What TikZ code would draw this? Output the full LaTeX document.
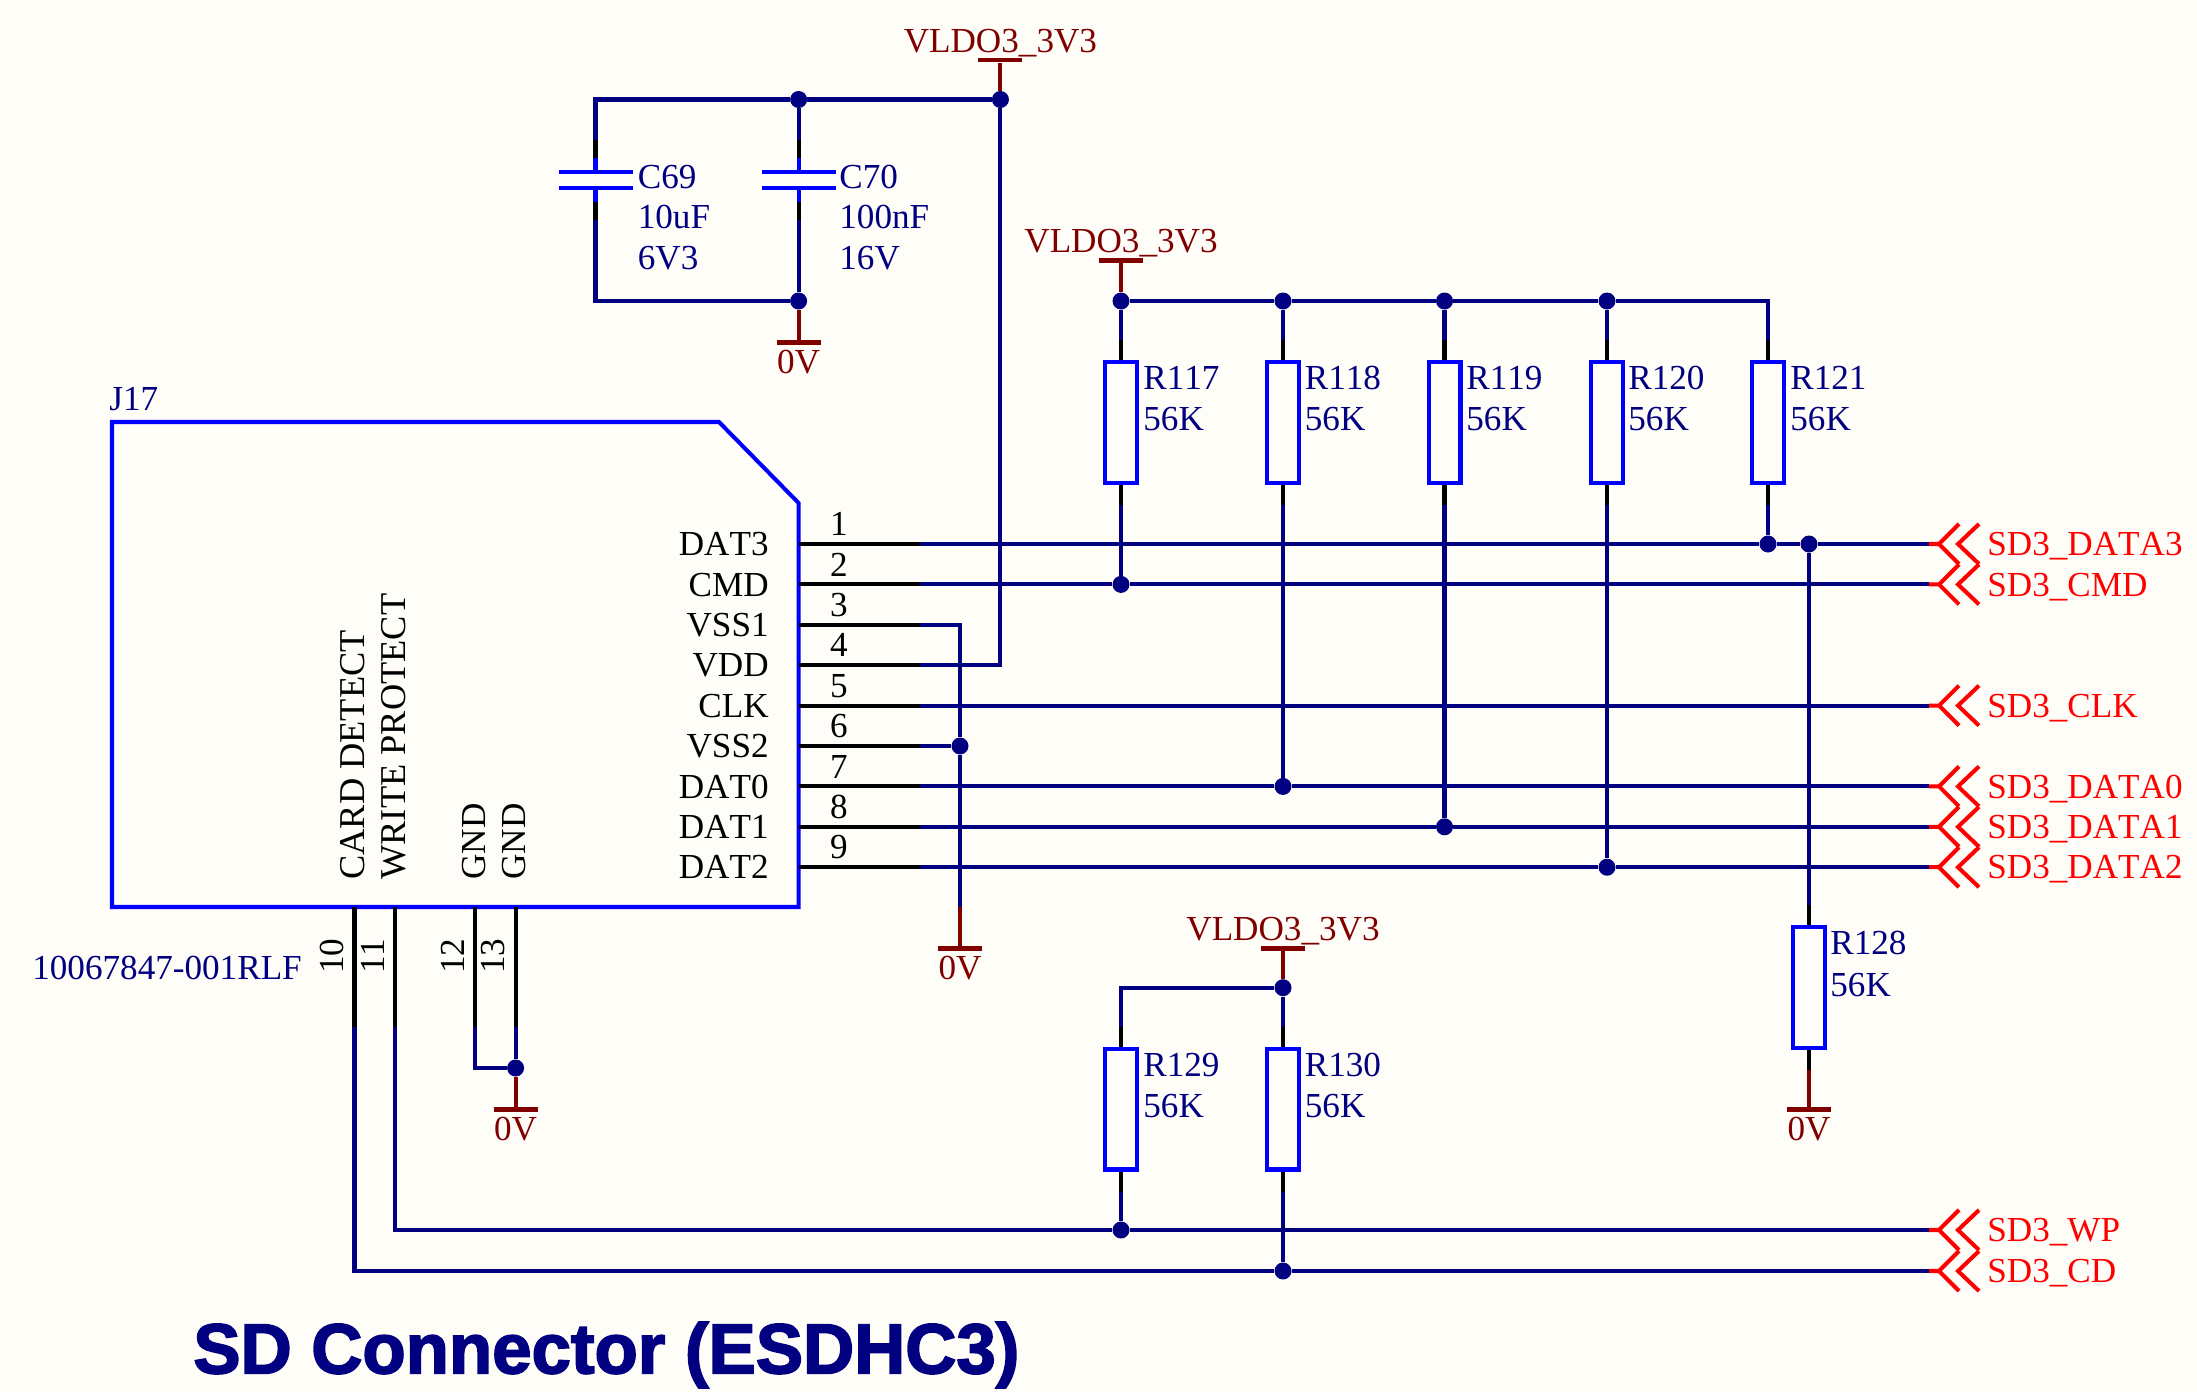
\documentclass[tikz,border=0pt]{standalone}
\usepackage{fontspec}
\setmainfont[Kerning=Off]{Liberation Serif}
\newfontfamily\titlefont[FakeBold=2.4]{Liberation Sans Bold}
\definecolor{paper}{RGB}{255,253,248}
\definecolor{netnavy}{RGB}{0,0,128}
\definecolor{partblue}{RGB}{0,0,255}
\definecolor{railred}{RGB}{128,0,0}
\tikzset{
    lbl/.style={inner sep=0, text height=13.2pt, text depth=0pt, font=\fontsize{20}{24}\selectfont},
    partlbl/.style={lbl, anchor=west, text=netnavy},
    pinname/.style={lbl, anchor=east, text=black},
    pinnum/.style={lbl, text=black},
    botname/.style={lbl, anchor=west, rotate=90, text=black},
    botlong/.style={botname, font=\fontsize{20.7}{24}\selectfont},
    railtxt/.style={lbl, text=railred},
    porttxt/.style={lbl, anchor=west, text=red},
    junct/.style={circle, fill=netnavy, inner sep=0, minimum size=.34cm},
    railbar/.style={rectangle, fill=railred, inner sep=0, minimum width=.88cm, minimum height=.09cm},
    plate/.style={rectangle, fill=partblue, inner sep=0, minimum width=1.48cm, minimum height=.08cm},
    res/.style={rectangle, draw=partblue, line width=2.3pt, inner sep=0, minimum width=.64cm, minimum height=2.42cm},
    wire/.style={netnavy, line width=2.3pt},
    stub/.style={black, line width=2.3pt},
    partline/.style={partblue, line width=2.3pt},
    railline/.style={railred, line width=2.3pt},
    chevrons/.pic={
        \draw[red, line width=2.3pt] (0,0) -- (10,0) (30,-20) -- (10,0) -- (30,20);
        \draw[red, line width=2.3pt] (50,-20) -- (29,0) -- (50,20);
    }
}
\begin{document}
\begin{tikzpicture}[x=.02cm, y=-.02cm]
    \fill[paper] (0,0) rectangle (2197,1393);
    \useasboundingbox (0,0) rectangle (2197,1393);
    % connector body
    \draw[partline] (112,422) -- (719,422) -- (798.6,503) -- (798.6,907) -- (112,907) -- cycle;
    \node[partlbl] (J17) at (109,399) {J17};
    \node[partlbl] (partno) at (32,968) {10067847-001RLF};

    \node[pinname] (DAT3) at (769,544) {DAT3};
    \node[pinname] (CMD) at (769,584.4) {CMD};
    \node[pinname] (VSS1) at (769,624.8) {VSS1};
    \node[pinname] (VDD) at (769,665.2) {VDD};
    \node[pinname] (CLK) at (769,705.6) {CLK};
    \node[pinname] (VSS2) at (769,746) {VSS2};
    \node[pinname] (DAT0) at (769,786.4) {DAT0};
    \node[pinname] (DAT1) at (769,826.8) {DAT1};
    \node[pinname] (DAT2) at (769,867.2) {DAT2};
    \node[pinnum] (n1) at (839,524) {1};
    \node[pinnum] (n2) at (839,564.4) {2};
    \node[pinnum] (n3) at (839,604.8) {3};
    \node[pinnum] (n4) at (839,645.2) {4};
    \node[pinnum] (n5) at (839,685.6) {5};
    \node[pinnum] (n6) at (839,726) {6};
    \node[pinnum] (n7) at (839,766.4) {7};
    \node[pinnum] (n8) at (839,806.8) {8};
    \node[pinnum] (n9) at (839,847.2) {9};
    \node[botlong] (cd) at (353,880) {CARD DETECT};
    \node[botlong] (wp) at (394,880) {WRITE PROTECT};
    \node[botname] (gndA) at (474,880) {GND};
    \node[botname] (gndB) at (514,880) {GND};
    \node[botname] (n10) at (332,974) {10};
    \node[botname] (n11) at (373,974) {11};
    \node[botname] (n12) at (453,974) {12};
    \node[botname] (n13) at (493,974) {13};

    % pin ends on the body and where the stubs stop
    \coordinate (p1) at (798.6,544);    \coordinate (q1) at (920,544);
    \coordinate (p2) at (798.6,584.4);  \coordinate (q2) at (920,584.4);
    \coordinate (p3) at (798.6,624.8);  \coordinate (q3) at (920,624.8);
    \coordinate (p4) at (798.6,665.2);  \coordinate (q4) at (920,665.2);
    \coordinate (p5) at (798.6,705.6);  \coordinate (q5) at (920,705.6);
    \coordinate (p6) at (798.6,746);    \coordinate (q6) at (920,746);
    \coordinate (p7) at (798.6,786.4);  \coordinate (q7) at (920,786.4);
    \coordinate (p8) at (798.6,826.8);  \coordinate (q8) at (920,826.8);
    \coordinate (p9) at (798.6,867.2);  \coordinate (q9) at (920,867.2);
    \coordinate (p10) at (354.5,907);   \coordinate (q10) at (354.5,1027);
    \coordinate (p11) at (395,907);     \coordinate (q11) at (395,1027);
    \coordinate (p12) at (475,907);     \coordinate (q12) at (475,1027);
    \coordinate (p13) at (515.6,907);   \coordinate (q13) at (515.6,1027);
    \draw[stub] (p1) -- (q1);
    \draw[stub] (p2) -- (q2);
    \draw[stub] (p3) -- (q3);
    \draw[stub] (p4) -- (q4);
    \draw[stub] (p5) -- (q5);
    \draw[stub] (p6) -- (q6);
    \draw[stub] (p7) -- (q7);
    \draw[stub] (p8) -- (q8);
    \draw[stub] (p9) -- (q9);
    \draw[stub] (p10) -- (q10);
    \draw[stub] (p11) -- (q11);
    \draw[stub] (p12) -- (q12);
    \draw[stub] (p13) -- (q13);

    % capacitors
    \node[plate] (C69a) at (595.5,172) {};
    \node[plate] (C69b) at (595.5,188) {};
    \node[plate] (C70a) at (798.6,172) {};
    \node[plate] (C70b) at (798.6,188) {};
    \node[partlbl] (C69) at (637.5,176.5) {C69};
    \node[partlbl] at (637.5,217) (C69v) {10uF};
    \node[partlbl] at (637.5,258) (C69r) {6V3};
    \node[partlbl] (C70) at (839,176.5) {C70};
    \node[partlbl] at (839,217) (C70v) {100nF};
    \node[partlbl] at (839,258) (C70r) {16V};
    \node[junct] (jCapTop) at (798.6,99.5) {};
    \node[junct] (jCapBot) at (798.6,301) {};
    \node[junct] (jVdd) at (1000.4,99.5) {};
    \draw[wire] (C69a) |- (jCapTop);
    \draw[wire] (C69b) |- (jCapBot);
    \draw[wire] (C70a) -- (jCapTop);
    \draw[wire] (C70b) -- (jCapBot);
    \draw[wire] (jCapTop) -- (jVdd);
    \draw[wire] (q4) -| (jVdd);
    \draw[partline] (C69a) -- ++(0,-14);
    \draw[stub] (C69a) ++(0,-14) -- ++(0,-18);
    \draw[partline] (C69b) -- ++(0,14);
    \draw[stub] (C69b) ++(0,14) -- ++(0,18);
    \draw[partline] (C70a) -- ++(0,-14);
    \draw[stub] (C70a) ++(0,-14) -- ++(0,-18);
    \draw[partline] (C70b) -- ++(0,14);
    \draw[stub] (C70b) ++(0,14) -- ++(0,18);

    % supply and ground symbols
    \node[railbar] (barA) at (1000.4,60) {};
    \node[railtxt] (vldoA) at (1000.4,40.6) {VLDO3\_3V3};
    \node[railbar] (barB) at (1121,260.6) {};
    \node[railtxt] (vldoB) at (1121,241) {VLDO3\_3V3};
    \node[railbar] (barC) at (1283,948.5) {};
    \node[railtxt] (vldoC) at (1283,929) {VLDO3\_3V3};
    \node[railbar] (gndCap) at (798.6,342.5) {};
    \node[railtxt] (zeroCap) at (798.6,362) {0V};
    \node[railbar] (gndVss) at (960,948.5) {};
    \node[railtxt] (zeroVss) at (960,968) {0V};
    \node[railbar] (gndShell) at (515.6,1109.6) {};
    \node[railtxt] (zeroShell) at (515.6,1129) {0V};
    \node[railbar] (gndPull) at (1809,1109.6) {};
    \node[railtxt] (zeroPull) at (1809,1129) {0V};

    % pull-ups
    \node[res] (R117) at (1121,422.5) {};
    \node[res] (R118) at (1283,422.5) {};
    \node[res] (R119) at (1444.5,422.5) {};
    \node[res] (R120) at (1607,422.5) {};
    \node[res] (R121) at (1768,422.5) {};
    \node[res] (R128) at (1809,987.7) {};
    \node[res] (R129) at (1121,1109) {};
    \node[res] (R130) at (1283,1109) {};
    \node[partlbl] (R117n) at (1143,378) {R117};
    \node[partlbl] (R117v) at (1143,419) {56K};
    \node[partlbl] (R118n) at (1304.5,378) {R118};
    \node[partlbl] (R118v) at (1304.5,419) {56K};
    \node[partlbl] (R119n) at (1466,378) {R119};
    \node[partlbl] (R119v) at (1466,419) {56K};
    \node[partlbl] (R120n) at (1628,378) {R120};
    \node[partlbl] (R120v) at (1628,419) {56K};
    \node[partlbl] (R121n) at (1790,378) {R121};
    \node[partlbl] (R121v) at (1790,419) {56K};
    \node[partlbl] (R128n) at (1830,943) {R128};
    \node[partlbl] (R128v) at (1830,985) {56K};
    \node[partlbl] (R129n) at (1143,1065) {R129};
    \node[partlbl] (R129v) at (1143,1106) {56K};
    \node[partlbl] (R130n) at (1304.5,1065) {R130};
    \node[partlbl] (R130v) at (1304.5,1106) {56K};

    \node[junct] (jRailB) at (1121,301) {};
    \node[junct] (jB2) at (1283,301) {};
    \node[junct] (jB3) at (1444.5,301) {};
    \node[junct] (jB4) at (1607,301) {};
    \node[junct] (jRailC) at (1283,987.7) {};
    \node[junct] (jCmd) at (1121,584.4) {};
    \node[junct] (jDat0) at (1283,786.4) {};
    \node[junct] (jDat1) at (1444.5,826.8) {};
    \node[junct] (jDat2) at (1607,867.2) {};
    \node[junct] (jDat3) at (1768,544) {};
    \node[junct] (jDat3b) at (1809,544) {};
    \node[junct] (jVss) at (960,746) {};
    \node[junct] (jShell) at (515.6,1068) {};
    \node[junct] (jWp) at (1121,1230) {};
    \node[junct] (jCd) at (1283,1271) {};

    % net ends at the ports
    \coordinate (e1) at (1929,544);
    \coordinate (e2) at (1929,584.4);
    \coordinate (e5) at (1929,705.6);
    \coordinate (e7) at (1929,786.4);
    \coordinate (e8) at (1929,826.8);
    \coordinate (e9) at (1929,867.2);
    \coordinate (eWp) at (1929,1230);
    \coordinate (eCd) at (1929,1271);
    \coordinate (vssDrop) at (960,907);
    \pic at (e1) {chevrons};
    \pic at (e2) {chevrons};
    \pic at (e5) {chevrons};
    \pic at (e7) {chevrons};
    \pic at (e8) {chevrons};
    \pic at (e9) {chevrons};
    \pic at (eWp) {chevrons};
    \pic at (eCd) {chevrons};
    \node[porttxt] (data3) at (1987,544) {SD3\_DATA3};
    \node[porttxt] (cmd) at (1987,584.4) {SD3\_CMD};
    \node[porttxt] (clk) at (1987,705.6) {SD3\_CLK};
    \node[porttxt] (data0) at (1987,786.4) {SD3\_DATA0};
    \node[porttxt] (data1) at (1987,826.8) {SD3\_DATA1};
    \node[porttxt] (data2) at (1987,867.2) {SD3\_DATA2};
    \node[porttxt] (wpn) at (1987,1230) {SD3\_WP};
    \node[porttxt] (cdn) at (1987,1271) {SD3\_CD};

    % nets
    \draw[wire] (q1) -- (jDat3) -- (jDat3b) -- (e1);
    \draw[wire] (q2) -- (jCmd) -- (e2);
    \draw[wire] (q3) -| (jVss);
    \draw[wire] (q5) -- (e5);
    \draw[wire] (q6) -- (jVss);
    \draw[wire] (q7) -- (jDat0) -- (e7);
    \draw[wire] (q8) -- (jDat1) -- (e8);
    \draw[wire] (q9) -- (jDat2) -- (e9);
    \draw[wire] (jVss) -- (vssDrop);
    \draw[railline] (vssDrop) -- (gndVss);
    \draw[wire] (q10) |- (jCd);
    \draw[wire] (jCd) -- (eCd);
    \draw[wire] (q11) |- (jWp);
    \draw[wire] (jWp) -- (eWp);
    \draw[wire] (q12) |- (jShell);
    \draw[wire] (q13) -- (jShell);
    \draw[railline] (jShell) -- (gndShell);
    \draw[railline] (jVdd) -- (barA);
    \draw[railline] (jCapBot) -- (gndCap);
    \draw[railline] (jRailB) -- (barB);
    \draw[railline] (jRailC) -- (barC);
    \draw[wire] (jRailB) -- (jB2) -- (jB3) -- (jB4) -| (R121);
    \draw[wire] (R117) -- (jRailB);
    \draw[wire] (R118) -- (jB2);
    \draw[wire] (R119) -- (jB3);
    \draw[wire] (R120) -- (jB4);
    \draw[wire] (R117) -- (jCmd);
    \draw[wire] (R118) -- (jDat0);
    \draw[wire] (R119) -- (jDat1);
    \draw[wire] (R120) -- (jDat2);
    \draw[wire] (R121) -- (jDat3);
    \draw[wire] (jDat3b) -- (R128);
    \draw[wire] (jRailC) -| (R129);
    \draw[wire] (jRailC) -- (R130);
    \draw[wire] (R129) -- (jWp);
    \draw[wire] (R130) -- (jCd);
    \draw[railline] (R128) -- (gndPull);
    \draw[stub] (R117.north) -- ++(0,-20);
    \draw[stub] (R117.south) -- ++(0,20);
    \draw[stub] (R118.north) -- ++(0,-20);
    \draw[stub] (R118.south) -- ++(0,20);
    \draw[stub] (R119.north) -- ++(0,-20);
    \draw[stub] (R119.south) -- ++(0,20);
    \draw[stub] (R120.north) -- ++(0,-20);
    \draw[stub] (R120.south) -- ++(0,20);
    \draw[stub] (R121.north) -- ++(0,-20);
    \draw[stub] (R121.south) -- ++(0,20);
    \draw[stub] (R128.north) -- ++(0,-20);
    \draw[stub] (R128.south) -- ++(0,20);
    \draw[stub] (R129.north) -- ++(0,-20);
    \draw[stub] (R129.south) -- ++(0,20);
    \draw[stub] (R130.north) -- ++(0,-20);
    \draw[stub] (R130.south) -- ++(0,20);

    \node[anchor=west, inner sep=0, text=netnavy, font=\titlefont\fontsize{40.3}{48}\selectfont] (title) at (193,1355) {SD Connector (ESDHC3)};
\end{tikzpicture}
\end{document}
